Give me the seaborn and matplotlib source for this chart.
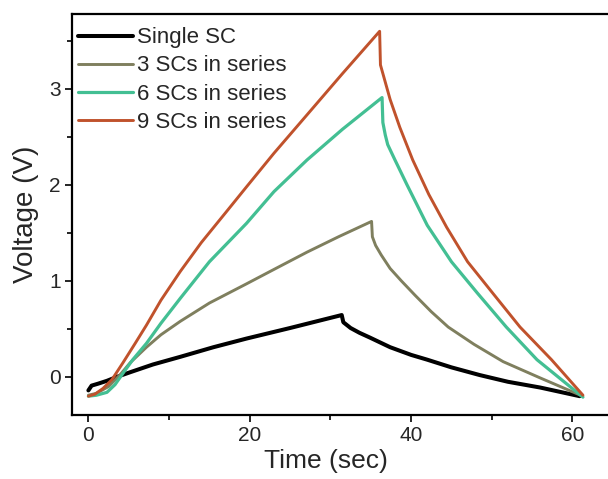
import matplotlib
matplotlib.use("Agg")
import matplotlib.pyplot as plt
from matplotlib.ticker import MultipleLocator
import seaborn as sns
import pandas as pd

# ---- data ----
series_names = ["Single SC", "3 SCs in series", "6 SCs in series", "9 SCs in series"]

t_single = [0, 0.4, 1.2, 2.3, 3.5, 5.2, 8.0, 11.4, 15.5, 19.6, 25.0, 31.4, 31.6, 32.5, 33.6, 34.9,
            37.4, 40.0, 42.0, 45.0, 48.5, 52.0, 56.0, 60.9]
v_single = [-0.14, -0.09, -0.07, -0.04, 0.00, 0.05, 0.13, 0.21, 0.31, 0.40, 0.51, 0.645, 0.57, 0.51, 0.46, 0.41,
            0.31, 0.23, 0.18, 0.10, 0.02, -0.05, -0.11, -0.20]

t_3 = [0, 1.0, 2.5, 4.0, 5.2, 7.2, 9.0, 11.4, 15.0, 19.6, 23.0, 27.1, 31.0, 35.1, 35.2, 35.6, 36.3,
       37.4, 38.8, 40.5, 42.5, 44.6, 47.8, 51.4, 56.0, 61.0]
v_3 = [-0.19, -0.17, -0.10, 0.03, 0.15, 0.31, 0.44, 0.58, 0.77, 0.97, 1.12, 1.30, 1.46, 1.62, 1.46, 1.37, 1.27,
       1.13, 1.00, 0.85, 0.68, 0.52, 0.34, 0.16, -0.01, -0.19]

t_6 = [0, 1.0, 2.3, 3.3, 4.3, 5.5, 7.2, 9.0, 11.4, 15.0, 19.6, 23.0, 27.1, 31.5, 36.4, 36.5, 36.8, 37.1,
       38.0, 39.5, 42.0, 45.0, 48.2, 51.8, 55.6, 61.3]
v_6 = [-0.20, -0.19, -0.16, -0.08, 0.04, 0.18, 0.35, 0.56, 0.82, 1.20, 1.60, 1.93, 2.26, 2.58, 2.91, 2.65, 2.52, 2.42,
       2.26, 2.00, 1.58, 1.20, 0.875, 0.52, 0.18, -0.21]

t_9 = [0, 0.8, 1.8, 2.9, 4.3, 5.8, 7.2, 9.0, 11.4, 14.0, 17.0, 19.6, 23.0, 27.1, 31.5, 36.1, 36.2, 36.6,
       37.4, 38.6, 40.2, 42.2, 44.4, 47.0, 50.1, 53.5, 57.4, 61.3]
v_9 = [-0.20, -0.18, -0.12, -0.03, 0.15, 0.35, 0.54, 0.80, 1.10, 1.40, 1.71, 1.98, 2.33, 2.73, 3.16, 3.60, 3.25, 3.13,
       2.89, 2.60, 2.26, 1.90, 1.56, 1.20, 0.875, 0.52, 0.18, -0.19]

colors = ["#000000", "#7f7f5e", "#43bf93", "#c0522c"]
widths = [2.9, 2.1, 2.3, 2.1]

x_ticks = [0, 20, 40, 60]
y_ticks = [0, 1, 2, 3]

# ---- build long table ----
frames = []
for name, t, v in zip(series_names, [t_single, t_3, t_6, t_9], [v_single, v_3, v_6, v_9]):
    frames.append(pd.DataFrame({"Time": t, "Voltage": v, "Series": name}))
df = pd.concat(frames, ignore_index=True)

sns.set_theme(style="white")
plt.rcParams["font.family"] = ["Liberation Sans", "DejaVu Sans"]

fig = plt.figure(figsize=(6.08, 4.79), dpi=100)
ax = fig.add_axes([72 / 608, 64 / 479, 540 / 608, 401 / 479])

sns.lineplot(data=df, x="Time", y="Voltage", hue="Series", hue_order=series_names,
             palette=colors, sort=False, estimator=None, ax=ax, legend=True)

for line, lw in zip(ax.get_lines()[:4], widths):
    line.set_linewidth(lw)
    line.set_solid_joinstyle("round")
    line.set_solid_capstyle("round")

ax.set_xlim(-2.03, 64.9)
ax.set_ylim(-0.396, 3.78)
ax.set_xticks(x_ticks)
ax.set_yticks(y_ticks)
ax.xaxis.set_minor_locator(MultipleLocator(10))
ax.yaxis.set_minor_locator(MultipleLocator(0.5))
ax.tick_params(axis="both", which="major", direction="out", length=5, width=1.2,
               labelsize=15, color="black", pad=3, bottom=True, left=True)
ax.tick_params(axis="both", which="minor", direction="out", length=3.5, width=1.2,
               color="black", bottom=True, left=True)
for side in ["left", "bottom", "top"]:
    ax.spines[side].set_linewidth(1.6)
    ax.spines[side].set_color("black")
ax.spines["right"].set_visible(False)

ax.set_xlabel("Time (sec)", fontsize=19)
ax.set_ylabel("Voltage (V)", fontsize=20)
ax.xaxis.set_label_coords((326 - 72) / 540, -34 / 401)
ax.yaxis.set_label_coords(-33 / 540, 0.5)

handles, labels = ax.get_legend_handles_labels()
for h, lw in zip(handles, widths):
    h.set_linewidth(lw)
leg = ax.legend(handles, labels, loc="upper left", bbox_to_anchor=(-7 / 540, 1.0),
                frameon=False, fontsize=16,
                handlelength=2.45, handletextpad=0.2, labelspacing=0.32,
                borderaxespad=0.4, borderpad=0.2)

fig.savefig("out.png", dpi=100)
